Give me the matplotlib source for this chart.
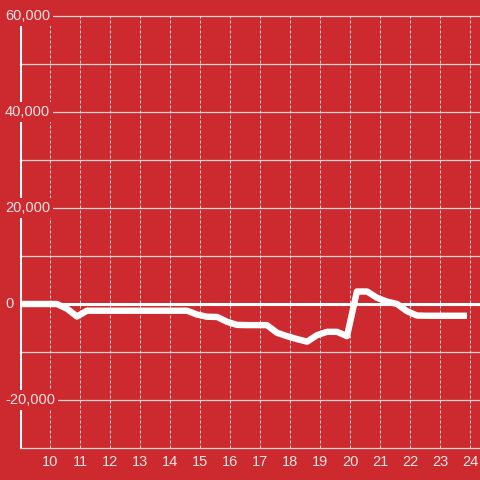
import matplotlib
matplotlib.use("Agg")
import matplotlib.pyplot as plt
from matplotlib.transforms import blended_transform_factory

# decimal hours of each sample
hours = [8.90, 9.23, 9.57, 9.90, 10.23, 10.57, 10.90, 11.23, 11.57, 11.90,
         12.23, 12.57, 12.90, 13.23, 13.57, 13.90, 14.23, 14.57, 14.90, 15.23,
         15.57, 15.90, 16.23, 16.57, 16.90, 17.23, 17.57, 17.90, 18.23, 18.57,
         18.90, 19.23, 19.57, 19.90, 20.23, 20.57, 20.90, 21.23, 21.57, 21.90,
         22.23, 22.57, 22.90, 23.23, 23.57, 23.90]
values = [0, 0, 0, 0, 0, -1000, -2600, -1400, -1400, -1400,
          -1400, -1400, -1400, -1400, -1400, -1400, -1400, -1400, -2200, -2650,
          -2700, -3700, -4350, -4400, -4400, -4400, -6000, -6700, -7300, -7850,
          -6500, -5800, -5800, -6700, 2600, 2600, 1300, 500, 0, -1500,
          -2400, -2450, -2450, -2450, -2450, -2450]

x_ticks = list(range(10, 25))
y_grid = list(range(-30000, 60001, 10000))
y_labels = [60000, 40000, 20000, 0, -20000]

bg = "#cc2a2e"
txt = "#f5e4e4"
grid_c = "#d6d6d6"

plt.rcParams["font.family"] = ["Liberation Sans", "DejaVu Sans"]

fig = plt.figure(figsize=(4.8, 4.8), dpi=100, facecolor=bg)
ax = fig.add_axes([20 / 480, 32 / 480, 460 / 480, 432 / 480])
ax.set_facecolor(bg)
ax.set_xlim(9.0, 9.0 + 460 / 30)
ax.set_ylim(-30000, 60000)
for s in ax.spines.values():
    s.set_visible(False)

for v in y_grid:
    if v == 0:
        continue
    ax.axhline(v, color=grid_c, lw=0.9, zorder=1, clip_on=False)
for h in x_ticks:
    ax.axvline(h, color=grid_c, lw=0.72, ls=(0, (3, 2)), zorder=1)

ax.axvline(9.0, color="white", lw=2.2, zorder=2)
ax.axhline(0, color="white", lw=2.2, zorder=2)

ax.plot(hours, values, color="white", lw=4.6, solid_capstyle="butt",
        solid_joinstyle="round", zorder=3)

ax.set_xticks(x_ticks)
ax.set_xticklabels([str(h) for h in x_ticks])
ax.tick_params(axis="x", length=0, pad=5, labelsize=10.5, labelcolor=txt)
ax.set_yticks([])

trans = blended_transform_factory(fig.transFigure, ax.transData)
for v in y_labels:
    ax.text(5 / 480, v, f"{v:,}", transform=trans,
            ha="left", va="center", fontsize=10.5, color=txt, zorder=5,
            clip_on=False,
            bbox=dict(boxstyle="square,pad=0.18", fc=bg, ec="none"))

fig.savefig("out.png", dpi=100, facecolor=bg)
